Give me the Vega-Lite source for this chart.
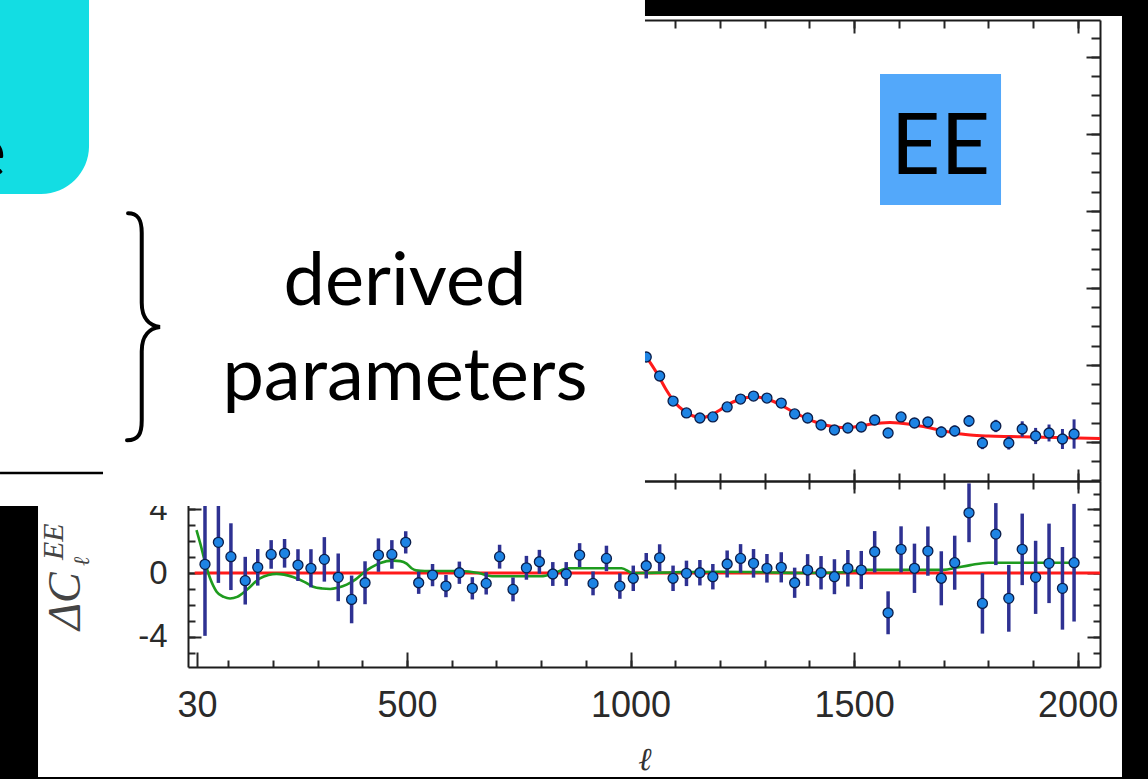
{
  "$schema": "https://vega.github.io/schema/vega-lite/v6.json",
  "width": 912,
  "height": 647,
  "autosize": {"type": "none"},
  "padding": {"left": 188, "top": 20, "right": 48, "bottom": 112},
  "background": "white",
  "config": {
    "view": {"stroke": null},
    "axis": {
      "domainColor": "#1c1c1c", "domainWidth": 2, "tickColor": "#262626", "tickWidth": 2,
      "grid": false, "labelFlush": false, "labelFont": "Liberation Sans", "labelFontSize": 36,
      "labelColor": "#2a2a2a", "labelOverlap": false
    }
  },
  "datasets": {
    "upper": [
      {"l": 1035, "v": 11.04, "lo": 10.74, "hi": 11.34},
      {"l": 1065, "v": 8.57, "lo": 8.27, "hi": 8.87},
      {"l": 1095, "v": 5.32, "lo": 5.02, "hi": 5.62},
      {"l": 1125, "v": 3.77, "lo": 3.47, "hi": 4.07},
      {"l": 1155, "v": 3.12, "lo": 2.82, "hi": 3.42},
      {"l": 1184, "v": 3.25, "lo": 2.95, "hi": 3.55},
      {"l": 1216, "v": 4.55, "lo": 4.2, "hi": 4.9},
      {"l": 1246, "v": 5.58, "lo": 5.23, "hi": 5.93},
      {"l": 1275, "v": 5.97, "lo": 5.62, "hi": 6.32},
      {"l": 1305, "v": 5.71, "lo": 5.36, "hi": 6.06},
      {"l": 1337, "v": 5.06, "lo": 4.66, "hi": 5.46},
      {"l": 1367, "v": 3.64, "lo": 3.24, "hi": 4.04},
      {"l": 1396, "v": 3.12, "lo": 2.72, "hi": 3.52},
      {"l": 1426, "v": 2.21, "lo": 1.76, "hi": 2.66},
      {"l": 1456, "v": 1.56, "lo": 1.11, "hi": 2.01},
      {"l": 1486, "v": 1.82, "lo": 1.32, "hi": 2.32},
      {"l": 1516, "v": 1.95, "lo": 1.45, "hi": 2.45},
      {"l": 1546, "v": 2.86, "lo": 2.31, "hi": 3.41},
      {"l": 1576, "v": 1.17, "lo": 0.62, "hi": 1.72},
      {"l": 1605, "v": 3.25, "lo": 2.65, "hi": 3.85},
      {"l": 1635, "v": 2.47, "lo": 1.87, "hi": 3.07},
      {"l": 1665, "v": 2.6, "lo": 1.95, "hi": 3.25},
      {"l": 1695, "v": 1.3, "lo": 0.6, "hi": 2.0},
      {"l": 1725, "v": 1.43, "lo": 0.73, "hi": 2.13},
      {"l": 1757, "v": 2.73, "lo": 1.98, "hi": 3.48},
      {"l": 1787, "v": -0.13, "lo": -0.93, "hi": 0.67},
      {"l": 1817, "v": 2.08, "lo": 1.28, "hi": 2.88},
      {"l": 1846, "v": -0.13, "lo": -0.98, "hi": 0.72},
      {"l": 1876, "v": 1.69, "lo": 0.69, "hi": 2.69},
      {"l": 1906, "v": 0.78, "lo": -0.27, "hi": 1.83},
      {"l": 1936, "v": 1.17, "lo": 0.07, "hi": 2.27},
      {"l": 1966, "v": 0.39, "lo": -0.91, "hi": 1.69},
      {"l": 1992, "v": 1.04, "lo": -0.86, "hi": 2.94}
    ],
    "upperModel": [
      {"l": 1020, "v": 12.4}, {"l": 1040, "v": 10.65}, {"l": 1060, "v": 8.83}, {"l": 1080, "v": 6.75},
      {"l": 1100, "v": 5.06}, {"l": 1120, "v": 4.03}, {"l": 1140, "v": 3.38}, {"l": 1160, "v": 3.18},
      {"l": 1180, "v": 3.51}, {"l": 1200, "v": 4.16}, {"l": 1220, "v": 4.94}, {"l": 1240, "v": 5.45},
      {"l": 1260, "v": 5.78}, {"l": 1280, "v": 5.84}, {"l": 1300, "v": 5.65}, {"l": 1320, "v": 5.26},
      {"l": 1340, "v": 4.68}, {"l": 1360, "v": 4.03}, {"l": 1380, "v": 3.44}, {"l": 1400, "v": 2.92},
      {"l": 1420, "v": 2.47}, {"l": 1440, "v": 2.14}, {"l": 1460, "v": 1.95}, {"l": 1480, "v": 1.88},
      {"l": 1500, "v": 1.95}, {"l": 1520, "v": 2.14}, {"l": 1540, "v": 2.34}, {"l": 1560, "v": 2.47},
      {"l": 1580, "v": 2.53}, {"l": 1600, "v": 2.47}, {"l": 1620, "v": 2.34}, {"l": 1640, "v": 2.14},
      {"l": 1660, "v": 1.95}, {"l": 1680, "v": 1.69}, {"l": 1700, "v": 1.43}, {"l": 1720, "v": 1.23},
      {"l": 1740, "v": 1.04}, {"l": 1760, "v": 0.91}, {"l": 1800, "v": 0.78}, {"l": 1850, "v": 0.71},
      {"l": 1900, "v": 0.65}, {"l": 1950, "v": 0.58}, {"l": 2000, "v": 0.52}, {"l": 2050, "v": 0.45}
    ],
    "resid": [
      {"l": 48, "v": 0.55, "lo": -3.95, "hi": 5.05},
      {"l": 78, "v": 1.93, "lo": -0.62, "hi": 4.48},
      {"l": 106, "v": 1.03, "lo": -1.07, "hi": 3.13},
      {"l": 138, "v": -0.48, "lo": -1.98, "hi": 1.02},
      {"l": 166, "v": 0.36, "lo": -0.79, "hi": 1.51},
      {"l": 196, "v": 1.17, "lo": 0.27, "hi": 2.07},
      {"l": 226, "v": 1.24, "lo": 0.34, "hi": 2.14},
      {"l": 256, "v": 0.5, "lo": -0.5, "hi": 1.5},
      {"l": 285, "v": 0.3, "lo": -0.9, "hi": 1.5},
      {"l": 315, "v": 0.86, "lo": -0.54, "hi": 2.26},
      {"l": 346, "v": -0.27, "lo": -1.77, "hi": 1.23},
      {"l": 376, "v": -1.66, "lo": -3.16, "hi": -0.16},
      {"l": 406, "v": -0.61, "lo": -1.96, "hi": 0.74},
      {"l": 436, "v": 1.13, "lo": 0.08, "hi": 2.18},
      {"l": 466, "v": 1.17, "lo": 0.27, "hi": 2.07},
      {"l": 497, "v": 1.93, "lo": 1.23, "hi": 2.63},
      {"l": 526, "v": -0.61, "lo": -1.31, "hi": 0.09},
      {"l": 557, "v": -0.13, "lo": -0.83, "hi": 0.57},
      {"l": 587, "v": -0.82, "lo": -1.52, "hi": -0.12},
      {"l": 617, "v": 0.02, "lo": -0.68, "hi": 0.72},
      {"l": 646, "v": -0.96, "lo": -1.66, "hi": -0.26},
      {"l": 677, "v": -0.65, "lo": -1.35, "hi": 0.05},
      {"l": 707, "v": 1.03, "lo": 0.28, "hi": 1.78},
      {"l": 737, "v": -1.03, "lo": -1.78, "hi": -0.28},
      {"l": 767, "v": 0.33, "lo": -0.42, "hi": 1.08},
      {"l": 796, "v": 0.71, "lo": -0.04, "hi": 1.46},
      {"l": 826, "v": -0.06, "lo": -0.81, "hi": 0.69},
      {"l": 856, "v": -0.06, "lo": -0.81, "hi": 0.69},
      {"l": 886, "v": 1.13, "lo": 0.38, "hi": 1.88},
      {"l": 916, "v": -0.65, "lo": -1.4, "hi": 0.1},
      {"l": 946, "v": 0.92, "lo": 0.12, "hi": 1.72},
      {"l": 976, "v": -0.82, "lo": -1.62, "hi": -0.02},
      {"l": 1006, "v": -0.33, "lo": -1.13, "hi": 0.47},
      {"l": 1035, "v": 0.46, "lo": -0.34, "hi": 1.26},
      {"l": 1065, "v": 0.96, "lo": 0.11, "hi": 1.81},
      {"l": 1095, "v": -0.33, "lo": -1.13, "hi": 0.47},
      {"l": 1125, "v": -0.02, "lo": -0.82, "hi": 0.78},
      {"l": 1155, "v": 0.02, "lo": -0.78, "hi": 0.82},
      {"l": 1184, "v": -0.23, "lo": -1.03, "hi": 0.57},
      {"l": 1216, "v": 0.57, "lo": -0.28, "hi": 1.42},
      {"l": 1246, "v": 0.92, "lo": 0.02, "hi": 1.82},
      {"l": 1275, "v": 0.61, "lo": -0.29, "hi": 1.51},
      {"l": 1305, "v": 0.3, "lo": -0.6, "hi": 1.2},
      {"l": 1337, "v": 0.36, "lo": -0.59, "hi": 1.31},
      {"l": 1367, "v": -0.61, "lo": -1.56, "hi": 0.34},
      {"l": 1396, "v": 0.19, "lo": -0.81, "hi": 1.19},
      {"l": 1426, "v": 0.02, "lo": -1.03, "hi": 1.07},
      {"l": 1456, "v": -0.23, "lo": -1.33, "hi": 0.87},
      {"l": 1486, "v": 0.3, "lo": -0.85, "hi": 1.45},
      {"l": 1516, "v": 0.19, "lo": -1.01, "hi": 1.39},
      {"l": 1546, "v": 1.34, "lo": 0.04, "hi": 2.64},
      {"l": 1576, "v": -2.5, "lo": -3.85, "hi": -1.15},
      {"l": 1605, "v": 1.49, "lo": 0.04, "hi": 2.94},
      {"l": 1635, "v": 0.3, "lo": -1.25, "hi": 1.85},
      {"l": 1665, "v": 1.38, "lo": -0.17, "hi": 2.93},
      {"l": 1695, "v": -0.33, "lo": -2.03, "hi": 1.37},
      {"l": 1725, "v": 0.65, "lo": -1.05, "hi": 2.35},
      {"l": 1757, "v": 3.79, "lo": 1.94, "hi": 5.64},
      {"l": 1787, "v": -1.91, "lo": -3.81, "hi": -0.01},
      {"l": 1817, "v": 2.45, "lo": 0.5, "hi": 4.4},
      {"l": 1846, "v": -1.59, "lo": -3.69, "hi": 0.51},
      {"l": 1876, "v": 1.49, "lo": -0.76, "hi": 3.74},
      {"l": 1906, "v": -0.27, "lo": -2.57, "hi": 2.03},
      {"l": 1936, "v": 0.61, "lo": -1.89, "hi": 3.11},
      {"l": 1966, "v": -0.96, "lo": -3.56, "hi": 1.64},
      {"l": 1992, "v": 0.65, "lo": -3.05, "hi": 4.35}
    ],
    "green": [
      {"l": 29, "v": 2.7}, {"l": 38, "v": 1.8}, {"l": 48, "v": 0.7}, {"l": 59, "v": -0.3},
      {"l": 74, "v": -1.17}, {"l": 90, "v": -1.5}, {"l": 104, "v": -1.6}, {"l": 120, "v": -1.5},
      {"l": 141, "v": -1.07}, {"l": 171, "v": -0.33}, {"l": 190, "v": -0.12}, {"l": 208, "v": -0.05},
      {"l": 225, "v": -0.1}, {"l": 245, "v": -0.25}, {"l": 270, "v": -0.55}, {"l": 290, "v": -0.86},
      {"l": 310, "v": -0.97}, {"l": 328, "v": -1.0}, {"l": 345, "v": -0.92}, {"l": 365, "v": -0.73},
      {"l": 385, "v": -0.4}, {"l": 402, "v": 0.0}, {"l": 420, "v": 0.35}, {"l": 440, "v": 0.63},
      {"l": 469, "v": 0.78}, {"l": 485, "v": 0.75}, {"l": 499, "v": 0.59}, {"l": 510, "v": 0.3},
      {"l": 520, "v": 0.17}, {"l": 540, "v": 0.13}, {"l": 620, "v": 0.13}, {"l": 660, "v": 0.0},
      {"l": 690, "v": -0.2}, {"l": 800, "v": -0.2}, {"l": 830, "v": 0.0}, {"l": 860, "v": 0.3},
      {"l": 980, "v": 0.3}, {"l": 1005, "v": 0.0}, {"l": 1100, "v": 0.05}, {"l": 1200, "v": 0.08},
      {"l": 1300, "v": 0.05}, {"l": 1400, "v": 0.0}, {"l": 1480, "v": 0.05}, {"l": 1520, "v": 0.2},
      {"l": 1700, "v": 0.2}, {"l": 1730, "v": 0.35}, {"l": 1760, "v": 0.5}, {"l": 1800, "v": 0.65},
      {"l": 1990, "v": 0.65}
    ],
    "zero": [{"l": 25, "v": 0}, {"l": 2050, "v": 0}]
  },
  "resolve": {
    "scale": {"x": "independent", "y": "independent"},
    "axis": {"x": "independent", "y": "independent"}
  },
  "layer": [
    {
      "resolve": {"axis": {"x": "independent", "y": "independent"}},
      "layer": [
        {
          "data": {"name": "upperModel"},
          "mark": {"type": "line", "color": "#ff1a1a", "strokeWidth": 3, "interpolate": "monotone"},
          "encoding": {
            "x": {"field": "l", "type": "quantitative", "scale": {"domain": [10, 2050], "nice": false, "zero": false},
              "axis": {"orient": "top", "title": null, "labels": false, "domain": true, "tickSize": -8,
                "values": [100,200,300,400,500,600,700,800,900,1000,1100,1200,1300,1400,1500,1600,1700,1800,1900,2000]}},
            "y": {"field": "v", "type": "quantitative", "scale": {"domain": [-5.065, 54.805], "range": [461, 0], "nice": false, "zero": false},
              "axis": {"orient": "right", "title": null, "labels": false, "domain": true, "tickSize": -9,
                "values": [-5,-2.5,0,2.5,5,7.5,10,12.5,15,17.5,20,22.5,25,27.5,30,32.5,35,37.5,40,42.5,45,47.5,50,52.5]}}
          }
        },
        {
          "data": {"name": "upper"},
          "mark": {"type": "rule", "color": "#2e3192", "strokeWidth": 3},
          "encoding": {
            "x": {"field": "l", "type": "quantitative", "scale": {"domain": [10, 2050], "nice": false, "zero": false},
              "axis": {"orient": "top", "title": null, "labels": false, "domain": false, "tickSize": -13, "values": [500,1000,1500,2000]}},
            "y": {"field": "lo", "type": "quantitative", "scale": {"domain": [-5.065, 54.805], "range": [461, 0], "nice": false, "zero": false},
              "axis": {"orient": "right", "title": null, "labels": false, "domain": false, "tickSize": -14, "values": [0,10,20,30,40,50]}},
            "y2": {"field": "hi"}
          }
        },
        {
          "data": {"name": "upper"},
          "mark": {"type": "circle", "fill": "#1e84e4", "stroke": "#0a1d4a", "strokeWidth": 1.3, "size": 100, "opacity": 1},
          "encoding": {
            "x": {"field": "l", "type": "quantitative", "scale": {"domain": [10, 2050], "nice": false, "zero": false},
              "axis": {"orient": "bottom", "offset": -186, "title": null, "labels": false, "domain": true, "tickSize": -8,
                "values": [100,200,300,400,500,600,700,800,900,1000,1100,1200,1300,1400,1500,1600,1700,1800,1900,2000]}},
            "y": {"field": "v", "type": "quantitative", "scale": {"domain": [-5.065, 54.805], "range": [461, 0], "nice": false, "zero": false}, "axis": null}
          }
        },
        {
          "data": {"values": [{}]},
          "mark": {"type": "rect", "fill": "#53a8fa"},
          "encoding": {
            "x": {"datum": 1557.9, "type": "quantitative", "scale": {"domain": [10, 2050], "nice": false, "zero": false},
              "axis": {"orient": "bottom", "offset": -186, "title": null, "labels": false, "domain": false, "tickSize": -12, "values": [500,1000,1500,2000]}},
            "x2": {"datum": 1828.6},
            "y": {"datum": 47.79, "type": "quantitative", "scale": {"domain": [-5.065, 54.805], "range": [461, 0], "nice": false, "zero": false}, "axis": null},
            "y2": {"datum": 30.78}
          }
        },
        {
          "data": {"values": [{}]},
          "mark": {"type": "text", "text": "EE", "font": "Lato", "fontSize": 86, "color": "black", "align": "center", "baseline": "alphabetic"},
          "encoding": {
            "x": {"datum": 1693.2, "type": "quantitative", "scale": {"domain": [10, 2050], "nice": false, "zero": false}, "axis": null},
            "y": {"datum": 34.805, "type": "quantitative", "scale": {"domain": [-5.065, 54.805], "range": [461, 0], "nice": false, "zero": false}, "axis": null}
          }
        }
      ]
    },
    {
      "resolve": {"axis": {"x": "independent", "y": "independent"}},
      "layer": [
        {
          "data": {"name": "zero"},
          "mark": {"type": "line", "color": "#ff1a1a", "strokeWidth": 3},
          "encoding": {
            "x": {"field": "l", "type": "quantitative", "scale": {"domain": [10, 2050], "nice": false, "zero": false},
              "axis": {"orient": "bottom", "title": null, "labels": false, "domain": true, "tickSize": -7,
                "values": [100,200,300,400,500,600,700,800,900,1000,1100,1200,1300,1400,1500,1600,1700,1800,1900,2000]}},
            "y": {"field": "v", "type": "quantitative", "scale": {"domain": [-5.91, 5.79], "range": [647, 461], "nice": false, "zero": false},
              "axis": {"orient": "left", "title": null, "labels": false, "domain": true, "tickSize": -7, "values": [-5,-4,-3,-2,-1,0,1,2,3,4,5]}}
          }
        },
        {
          "data": {"name": "green"},
          "mark": {"type": "line", "color": "#1e9b1e", "strokeWidth": 2.6, "interpolate": "monotone"},
          "encoding": {
            "x": {"field": "l", "type": "quantitative", "scale": {"domain": [10, 2050], "nice": false, "zero": false},
              "axis": {"orient": "bottom", "title": null, "labels": true, "domain": false, "tickSize": -15, "labelPadding": 36,
                "format": "d", "values": [30,500,1000,1500,2000]}},
            "y": {"field": "v", "type": "quantitative", "scale": {"domain": [-5.91, 5.79], "range": [647, 461], "nice": false, "zero": false},
              "axis": {"orient": "left", "title": null, "labels": true, "domain": false, "tickSize": -13, "labelPadding": 34,
                "labelFontSize": 33, "values": [-4,0,4], "labelExpr": "datum.value < 0 ? '-' + format(-datum.value, 'd') : format(datum.value, 'd')"}}
          }
        },
        {
          "data": {"name": "resid"},
          "mark": {"type": "rule", "color": "#2e3192", "strokeWidth": 3.5},
          "encoding": {
            "x": {"field": "l", "type": "quantitative", "scale": {"domain": [10, 2050], "nice": false, "zero": false},
              "axis": {"orient": "top", "offset": -461, "title": null, "labels": false, "domain": true, "tickSize": -8,
                "values": [100,200,300,400,500,600,700,800,900,1000,1100,1200,1300,1400,1500,1600,1700,1800,1900,2000]}},
            "y": {"field": "lo", "type": "quantitative", "scale": {"domain": [-5.91, 5.79], "range": [647, 461], "nice": false, "zero": false},
              "axis": {"orient": "right", "title": null, "labels": false, "domain": true, "tickSize": -7, "values": [-5,-4,-3,-2,-1,0,1,2,3,4,5]}},
            "y2": {"field": "hi"}
          }
        },
        {
          "data": {"name": "resid"},
          "mark": {"type": "circle", "fill": "#1e84e4", "stroke": "#0a1d4a", "strokeWidth": 1.3, "size": 100, "opacity": 1},
          "encoding": {
            "x": {"field": "l", "type": "quantitative", "scale": {"domain": [10, 2050], "nice": false, "zero": false},
              "axis": {"orient": "top", "offset": -461, "title": null, "labels": false, "domain": false, "tickSize": -12, "values": [500,1000,1500,2000]}},
            "y": {"field": "v", "type": "quantitative", "scale": {"domain": [-5.91, 5.79], "range": [647, 461], "nice": false, "zero": false},
              "axis": {"orient": "right", "title": null, "labels": false, "domain": false, "tickSize": -13, "values": [-4,0,4]}}
          }
        }
      ]
    },
    {
      "data": {"values": [{}]},
      "encoding": {
        "x": {"type": "quantitative", "scale": {"domain": [10, 2050], "nice": false, "zero": false}, "axis": null},
        "y": {"type": "quantitative", "scale": {"domain": [-5.065, 54.805], "range": [461, 0], "nice": false, "zero": false}, "axis": null}
      },
      "layer": [
        {
          "mark": {"type": "rect", "fill": "white"},
          "encoding": {"x": {"datum": -410.5}, "x2": {"datum": 1032.2}, "y": {"datum": 57.4}, "y2": {"datum": -8.31}}
        },
        {
          "mark": {"type": "rect", "fill": "black"},
          "encoding": {"x": {"datum": 1032.2}, "x2": {"datum": 2200}, "y": {"datum": 60}, "y2": {"datum": 55.325}}
        },
        {
          "mark": {"type": "rect", "fill": "black"},
          "encoding": {"x": {"datum": 2099.2}, "x2": {"datum": 2200}, "y": {"datum": 60}, "y2": {"datum": -50}}
        },
        {
          "mark": {"type": "rect", "fill": "black"},
          "encoding": {"x": {"datum": -450}, "x2": {"datum": -325.5}, "y": {"datum": -8.31}, "y2": {"datum": -50}}
        },
        {
          "mark": {"type": "rect", "fill": "black"},
          "encoding": {"x": {"datum": -450}, "x2": {"datum": 2200}, "y": {"datum": -43.51}, "y2": {"datum": -50}}
        },
        {
          "mark": {"type": "rect", "fill": "#13dde3", "cornerRadiusBottomRight": 48},
          "encoding": {"x": {"datum": -460}, "x2": {"datum": -211.4}, "y": {"datum": 60}, "y2": {"datum": 32.21}}
        },
        {
          "mark": {"type": "text", "text": "e", "font": "Lato", "fontSize": 74, "color": "black", "align": "right", "baseline": "alphabetic"},
          "encoding": {"x": {"datum": -397.1}, "y": {"datum": 34.416}}
        },
        {
          "mark": {"type": "point", "shape": "M -0.13 -0.99 C -0.04 -0.99 -0.011 -0.93 -0.011 -0.82 L -0.011 -0.21 C -0.011 -0.07 0.06 -0.01 0.148 0 C 0.06 0.01 -0.011 0.07 -0.011 0.21 L -0.011 0.81 C -0.011 0.93 -0.04 0.985 -0.139 0.985",
            "size": 52900, "filled": false, "stroke": "black", "strokeWidth": 4, "strokeCap": "round", "opacity": 1},
          "encoding": {"x": {"datum": -90.66}, "y": {"datum": 14.935}}
        },
        {
          "mark": {"type": "text", "text": "derived", "font": "Lato", "fontSize": 74, "color": "black", "align": "center", "baseline": "alphabetic"},
          "encoding": {"x": {"datum": 495.4}, "y": {"datum": 17.79}}
        },
        {
          "mark": {"type": "text", "text": "parameters", "font": "Lato", "fontSize": 74, "color": "black", "align": "center", "baseline": "alphabetic"},
          "encoding": {"x": {"datum": 495.4}, "y": {"datum": 5.45}}
        },
        {
          "mark": {"type": "rule", "color": "black", "strokeWidth": 2.5},
          "encoding": {"x": {"datum": -410.5}, "x2": {"datum": -180.1}, "y": {"datum": -4.03}}
        },
        {
          "mark": {"type": "text", "text": "ΔC", "font": "Liberation Serif", "fontStyle": "italic", "fontSize": 46, "color": "#444444", "align": "left", "baseline": "alphabetic", "angle": 270},
          "encoding": {"x": {"datum": -231.58}, "y": {"datum": -24.416}}
        },
        {
          "mark": {"type": "text", "text": "EE", "font": "Liberation Serif", "fontStyle": "italic", "fontSize": 30, "color": "#444444", "align": "left", "baseline": "alphabetic", "angle": 270},
          "encoding": {"x": {"datum": -269.6}, "y": {"datum": -15.325}}
        },
        {
          "mark": {"type": "text", "text": "ℓ", "font": "DejaVu Serif", "fontStyle": "italic", "fontSize": 22, "color": "#444444", "align": "left", "baseline": "alphabetic", "angle": 270},
          "encoding": {"x": {"datum": -211.45}, "y": {"datum": -16.1}}
        },
        {
          "mark": {"type": "text", "text": "ℓ", "font": "DejaVu Serif", "fontStyle": "italic", "fontSize": 32, "color": "#333333", "align": "center", "baseline": "alphabetic"},
          "encoding": {"x": {"datum": 1032.2}, "y": {"datum": -42.6}}
        }
      ]
    }
  ]
}
